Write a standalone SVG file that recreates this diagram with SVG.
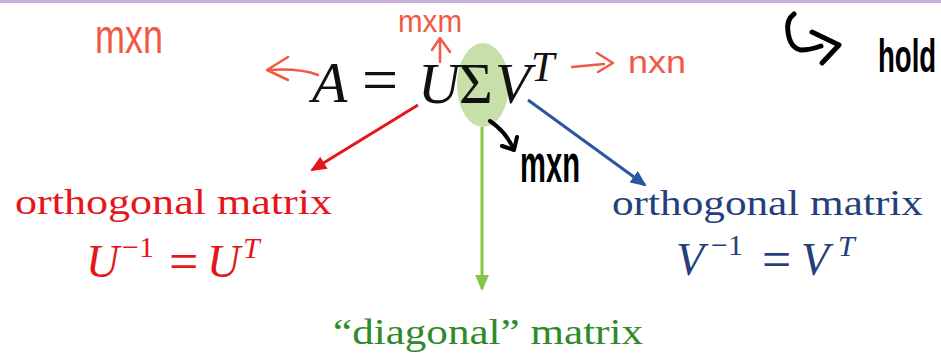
<svg xmlns="http://www.w3.org/2000/svg" width="941" height="358" viewBox="0 0 941 358">
<style>
.math{font-family:"Liberation Serif","Times New Roman",serif;}
.it{font-style:italic;}
.red{fill:#e5151b;}
.blue{fill:#24407a;}
.green{fill:#2f8a2a;}
.hand{font-family:"Liberation Sans",Arial,sans-serif;}
.hr{fill:#f05a45;}
.pen{fill:none;stroke-linecap:round;stroke-linejoin:round;}
</style>
<defs>
<marker id="ahRed" markerWidth="16" markerHeight="14" refX="14" refY="7" orient="auto" markerUnits="userSpaceOnUse" viewBox="0 0 16 14"><path d="M0,0 L16,7 L0,14 z" fill="#e5151b"/></marker>
<marker id="ahBlue" markerWidth="16" markerHeight="14" refX="14" refY="7" orient="auto" markerUnits="userSpaceOnUse" viewBox="0 0 16 14"><path d="M0,0 L16,7 L0,14 z" fill="#2a55a0"/></marker>
<marker id="ahGreen" markerWidth="16" markerHeight="14" refX="14" refY="7" orient="auto" markerUnits="userSpaceOnUse" viewBox="0 0 16 14"><path d="M0,0 L16,7 L0,14 z" fill="#86c646"/></marker>
</defs>
<rect x="0" y="0" width="941" height="3" fill="#c8b0d9"/>

<g id="highlight">
<ellipse cx="483" cy="85" rx="26" ry="42" fill="#c7dfa8"/>
</g>

<g id="formula" class="math" fill="#111">
<text font-size="58"><tspan x="312" y="102" class="it">A</tspan><tspan x="362" y="101" font-size="64">=</tspan><tspan x="418" y="103" class="it">U</tspan><tspan x="459" y="103">Σ</tspan><tspan x="495" y="103" class="it">V</tspan><tspan x="531" y="81" font-size="42" class="it">T</tspan></text>
</g>

<g id="connectors">
<line x1="418" y1="105" x2="312" y2="170" stroke="#e5151b" stroke-width="3" marker-end="url(#ahRed)"/>
<line x1="482" y1="127" x2="482" y2="289" stroke="#86c646" stroke-width="3" marker-end="url(#ahGreen)"/>
<line x1="528" y1="100" x2="645" y2="185" stroke="#2a55a0" stroke-width="3" marker-end="url(#ahBlue)"/>
</g>

<g id="node-u">
<text x="15" y="214" font-size="35" class="math red" textLength="317" lengthAdjust="spacingAndGlyphs">orthogonal matrix</text>
<text class="math red" font-size="46"><tspan x="86" y="277" class="it">U</tspan><tspan x="122" y="257" font-size="30">−1</tspan><tspan x="169" y="279" font-size="52">=</tspan><tspan x="207" y="277" class="it">U</tspan><tspan x="243" y="258" font-size="30" class="it">T</tspan></text>
</g>

<g id="node-v">
<text x="612" y="215" font-size="35" class="math blue" textLength="311" lengthAdjust="spacingAndGlyphs">orthogonal matrix</text>
<text class="math blue" font-size="46"><tspan x="676" y="275" class="it">V</tspan><tspan x="711" y="255" font-size="30">−1</tspan><tspan x="762" y="277" font-size="52">=</tspan><tspan x="801" y="275" class="it">V</tspan><tspan x="838" y="256" font-size="30" class="it">T</tspan></text>
</g>

<g id="node-sigma">
<text x="333" y="344" font-size="35" class="math green" textLength="310" lengthAdjust="spacingAndGlyphs">“diagonal” matrix</text>
</g>

<g id="annotations">
<text x="95" y="53" font-size="48" class="hand hr" textLength="68" lengthAdjust="spacingAndGlyphs">mxn</text>
<path class="pen" stroke="#f05a45" stroke-width="2.5" d="M318,75 Q300,68 268,70 M288,57 L267,70 L288,80"/>
<text x="398" y="32" font-size="32" class="hand hr" textLength="64" lengthAdjust="spacingAndGlyphs">mxm</text>
<path class="pen" stroke="#f05a45" stroke-width="2.5" d="M440,62 L440,39 M432,50 L440,38 L450,52"/>
<path class="pen" stroke="#f05a45" stroke-width="2.5" d="M572,67 L604,64 M597,53 L613,63 L598,72"/>
<text x="628" y="73" font-size="32" class="hand hr" textLength="58" lengthAdjust="spacingAndGlyphs">nxn</text>

<path class="pen" stroke="#000" stroke-width="4" d="M490,121 Q506,132 513,148 M502,146 L514,150 L517,137"/>
<text x="520" y="182" font-size="54" font-weight="bold" class="hand" fill="#000" textLength="60" lengthAdjust="spacingAndGlyphs">mxn</text>

<path class="pen" stroke="#000" stroke-width="5" d="M794,14 Q786,20 788,32 Q790,48 801,50 Q810,50 821,46 M812,32 L839,45 L822,63"/>
<text transform="translate(878,72) scale(0.6,1)" font-size="46" font-weight="bold" class="hand" fill="#000">hold</text>
</g>
</svg>
